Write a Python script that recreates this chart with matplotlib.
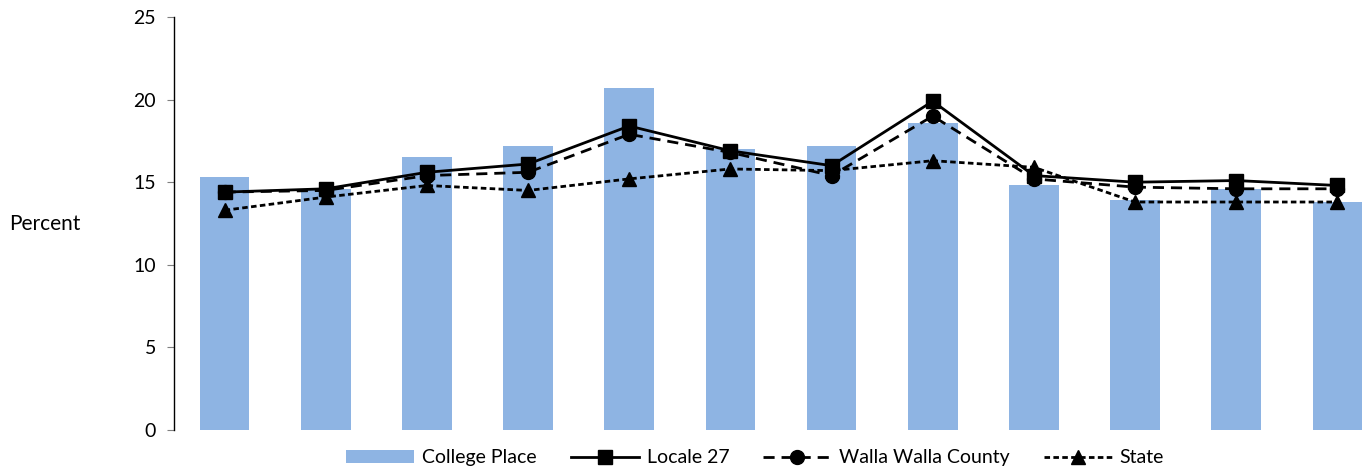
import numpy as np
import matplotlib
matplotlib.use("Agg")
import matplotlib.pyplot as plt

plt.rcParams["font.family"] = ["Lato", "DejaVu Sans"]

# 數據
categories = ["1", "2", "3", "4", "5", "6", "7", "8", "9", "10", "11", "12"]
college_place = [15.3, 14.6, 16.5, 17.2, 20.7, 17.0, 17.2, 18.6, 14.8, 13.9, 14.6, 13.8]
locale_27 = [14.4, 14.6, 15.6, 16.1, 18.4, 16.9, 16.0, 19.9, 15.4, 15.0, 15.1, 14.8]
walla_walla = [14.4, 14.5, 15.4, 15.6, 17.9, 16.8, 15.4, 19.0, 15.2, 14.7, 14.6, 14.6]
state = [13.3, 14.1, 14.8, 14.5, 15.2, 15.8, 15.7, 16.3, 15.9, 13.8, 13.8, 13.8]

x = np.arange(len(categories))

fig = plt.figure(figsize=(13.68, 4.73), dpi=100)
ax = fig.add_axes([0.1272, 0.0909, 0.8874, 0.8732])

bars = ax.bar(x, college_place, width=0.49, color="#8EB4E3", label="College Place", zorder=1)
l1, = ax.plot(x, locale_27, color="black", linewidth=2, marker="s", markersize=10,
              label="Locale 27", zorder=3)
l2, = ax.plot(x, walla_walla, color="black", linewidth=2, linestyle=(0, (4, 2.5)), marker="o",
              markersize=10, label="Walla Walla County", zorder=3)
l3, = ax.plot(x, state, color="black", linewidth=2, linestyle=(0, (2, 1.2)), marker="^",
              markersize=10, label="State", zorder=3)

ax.set_xlim(-0.5, len(categories) - 0.5)
ax.set_ylim(0, 25)
ax.set_yticks([0, 5, 10, 15, 20, 25])
ax.set_xticks([])
ax.tick_params(axis="y", direction="out", length=5, color="#7f7f7f", labelsize=14, pad=8)

for side in ["top", "right", "bottom"]:
    ax.spines[side].set_visible(False)
ax.spines["left"].set_linewidth(1)

fig.text(0.0066, 0.527, "Percent", fontsize=15, va="center", ha="left")

fig.legend(handles=[bars, l1, l2, l3], loc="center", bbox_to_anchor=(0.552, 0.032), ncol=4,
           frameon=False, fontsize=14, handlelength=3.5, columnspacing=1.75,
           handletextpad=0.4, borderpad=0)

fig.savefig("out.png", dpi=100)
